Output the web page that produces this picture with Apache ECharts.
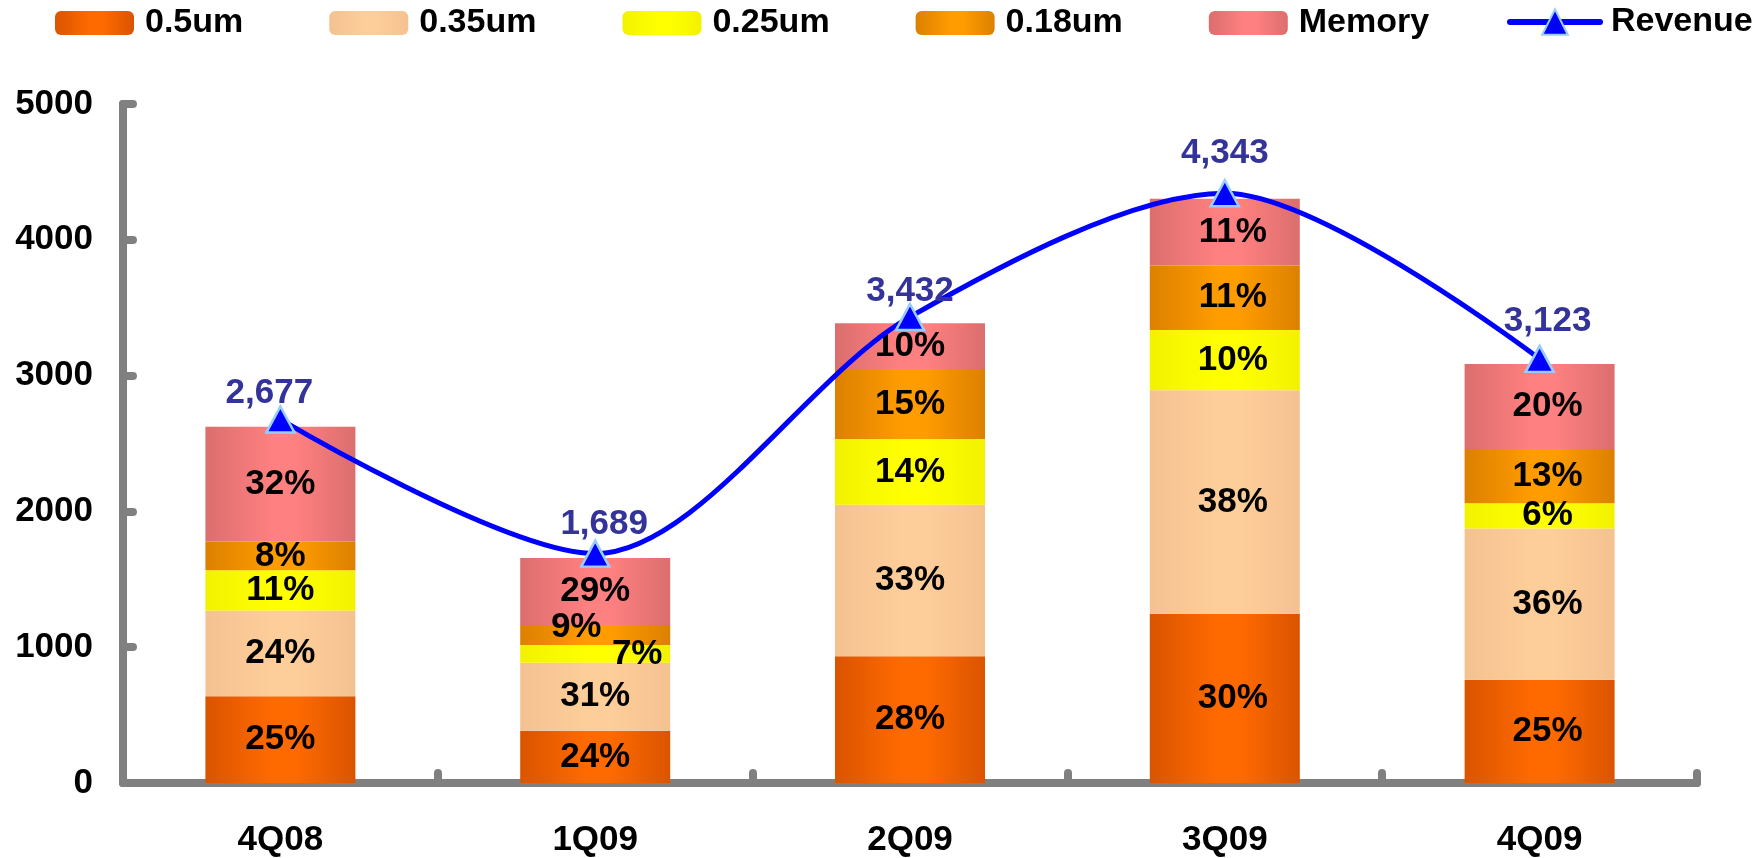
<!DOCTYPE html>
<html>
  <head>
    <meta http-equiv="Content-Type" content="text/html; charset=utf-8" />
    <title>Revenue by technology</title>
    <script src="https://cdn.jsdelivr.net/npm/echarts/dist/echarts.min.js"></script>
    <style>
      body { margin: 0; background: #fff; }
      #bar { width: 1757px; height: 858px; }
    </style>
  </head>
  <body>
    <div id="bar"></div>
    <script>
      // quarters
      var categories = ['4Q08', '1Q09', '2Q09', '3Q09', '4Q09'];

      // stacked bar values
      var um05   = [639, 385, 934, 1246, 760];
      var um035  = [631, 500, 1115, 1647, 1115];
      var um025  = [296, 131, 484, 443, 185];
      var um018  = [213, 148, 516, 475, 400];
      var memory = [844, 492, 336, 492, 625];

      // percentage labels shown in the bars
      var pct05   = ['25%', '24%', '28%', '30%', '25%'];
      var pct035  = ['24%', '31%', '33%', '38%', '36%'];
      var pct025  = ['11%', '7%', '14%', '10%', '6%'];
      var pct018  = ['8%', '9%', '15%', '11%', '13%'];
      var pctMem  = ['32%', '29%', '10%', '11%', '20%'];

      // revenue line
      var revenue = [2677, 1689, 3432, 4343, 3123];

      var FONT = '"Liberation Sans", Arial, sans-serif';

      function grad(dark, light) {
        return new echarts.graphic.LinearGradient(0, 0, 1, 0, [
          { offset: 0, color: dark },
          { offset: 0.45, color: light },
          { offset: 0.6, color: light },
          { offset: 1, color: dark }
        ]);
      }

      // some labels in the thin 1Q09 segments are nudged sideways
      var nudge = { '0.25um': { 1: [42, 0] }, '0.18um': { 1: [-19, -8] } };

      function barSeries(name, values, labels, dark, light) {
        var data = values.map(function (v, i) {
          var item = { value: v };
          if (nudge[name] && nudge[name][i]) {
            item.label = { offset: nudge[name][i] };
          } else if (i >= 3) {
            item.label = { offset: [8, 0] };
          }
          return item;
        });
        return {
          name: name,
          type: 'bar',
          stack: 'tech',
          barWidth: 150,
          data: data,
          itemStyle: { color: grad(dark, light) },
          label: {
            show: true,
            position: 'inside',
            color: '#000',
            fontFamily: FONT,
            fontWeight: 'bold',
            fontSize: 35,
            formatter: function (p) { return labels[p.dataIndex]; }
          }
        };
      }

      // revenue label placement tweaks (x shift, extra lift)
      var revLabelOffset = [[-11, 0], [9, -4], [0, 0], [0, -14], [8, -12]];

      var myChart1;
      window.onload = function () {
        myChart1 = echarts.init(document.getElementById('bar'));

        var axisGrey = '#808080';
        var legendText = {
          color: '#000',
          fontFamily: FONT,
          fontWeight: 'bold',
          fontSize: 34,
          padding: [0, 0, 0, 6]
        };

        var option = {
          animation: false,
          legend: [{
            left: 50,
            top: 1,
            width: 1500,
            itemWidth: 79,
            itemHeight: 24,
            itemGap: 86,
            textStyle: legendText,
            data: ['0.5um', '0.35um', '0.25um', '0.18um', 'Memory']
          }, {
            left: 1502,
            top: 0,
            itemWidth: 90,
            itemHeight: 32,
            textStyle: legendText,
            lineStyle: { width: 6, color: '#0000FF', cap: 'round' },
            data: ['Revenue']
          }],
          grid: {
            left: 123,
            right: 60,
            top: 104,
            bottom: 72,
            containLabel: false
          },
          xAxis: {
            type: 'category',
            data: categories,
            axisLine: { lineStyle: { color: axisGrey, width: 8, cap: 'round' } },
            axisTick: {
              show: true,
              inside: true,
              length: 10,
              lineStyle: { color: axisGrey, width: 8, cap: 'round' }
            },
            axisLabel: {
              color: '#000',
              fontFamily: FONT,
              fontWeight: 'bold',
              fontSize: 35,
              margin: 40
            }
          },
          yAxis: {
            type: 'value',
            min: 0,
            max: 5000,
            interval: 1000,
            splitLine: { show: false },
            axisLine: { show: true, lineStyle: { color: axisGrey, width: 8, cap: 'round' } },
            axisTick: {
              show: true,
              inside: true,
              length: 10,
              lineStyle: { color: axisGrey, width: 8, cap: 'round' }
            },
            axisLabel: {
              color: '#000',
              fontFamily: FONT,
              fontWeight: 'bold',
              fontSize: 35,
              margin: 30,
              formatter: function (v) { return String(v); }
            }
          },
          series: [
            barSeries('0.5um', um05, pct05, '#DA5400', '#FF6A00'),
            barSeries('0.35um', um035, pct035, '#F4C290', '#FDCD9A'),
            barSeries('0.25um', um025, pct025, '#F2F200', '#FFFF00'),
            barSeries('0.18um', um018, pct018, '#DC8000', '#FF9C00'),
            barSeries('Memory', memory, pctMem, '#DC6E6E', '#FF8080'),
            {
              name: 'Revenue',
              type: 'line',
              data: revenue.map(function (v, i) {
                return { value: v, label: { offset: revLabelOffset[i] } };
              }),
              smooth: 0.3,
              z: 10,
              symbol: 'triangle',
              symbolSize: [28, 26],
              lineStyle: { color: '#0000FF', width: 5 },
              itemStyle: { color: '#0000FF', borderColor: '#99CCFF', borderWidth: 2.5 },
              label: {
                show: true,
                position: 'top',
                distance: -6,
                color: '#333399',
                fontFamily: FONT,
                fontWeight: 'bold',
                fontSize: 35,
                formatter: function (p) { return p.value.toLocaleString('en-US'); }
              }
            }
          ]
        };

        myChart1.setOption(option);
      };
    </script>
  </body>
</html>
